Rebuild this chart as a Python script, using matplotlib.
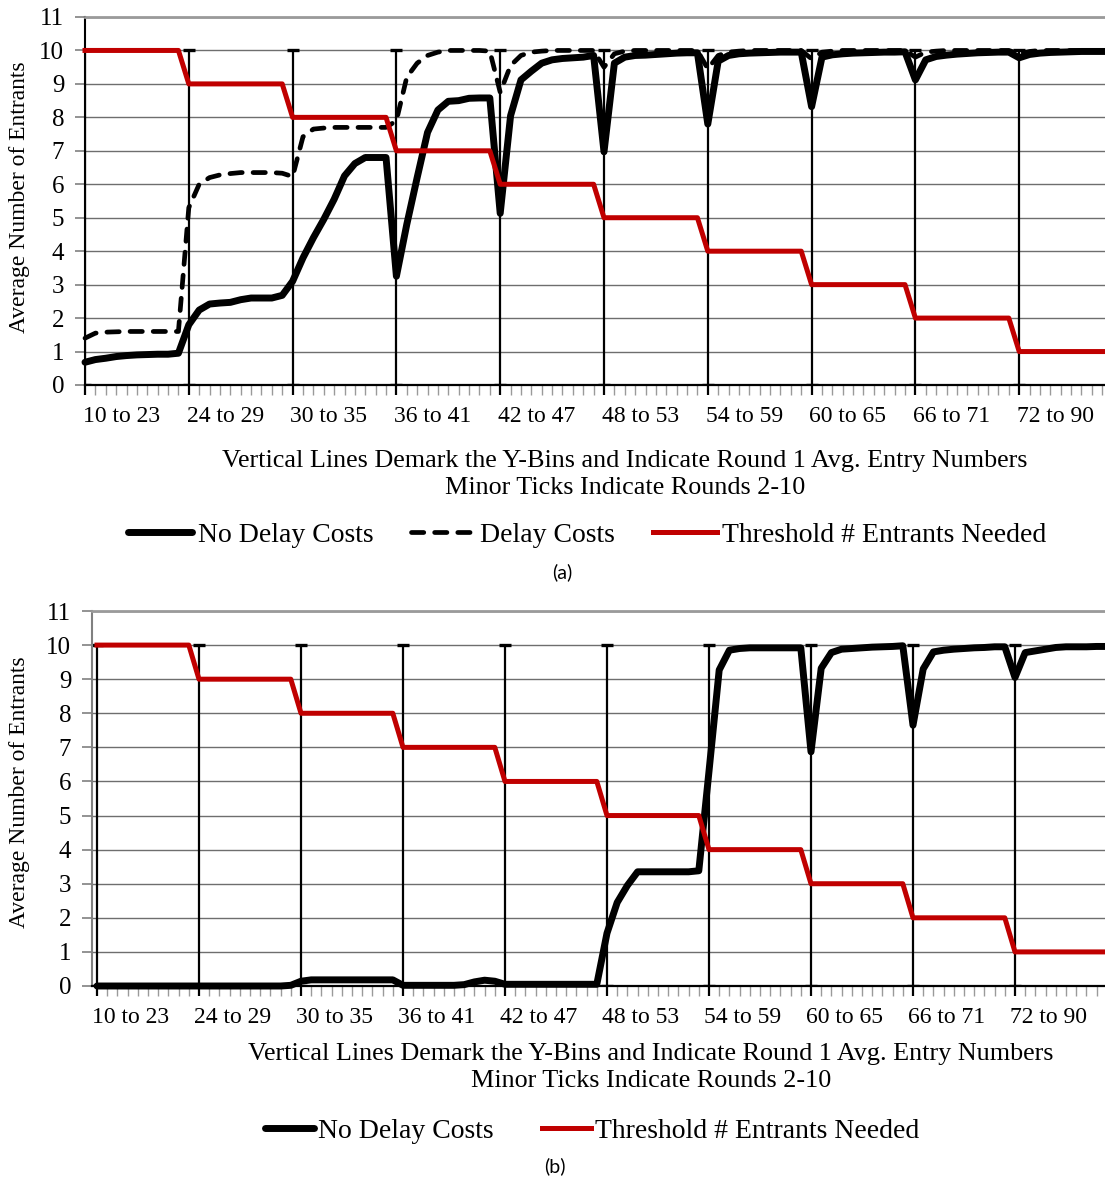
import numpy as np
import matplotlib
matplotlib.use("Agg")
import matplotlib.pyplot as plt
from matplotlib.ticker import MultipleLocator

plt.rcParams['font.family'] = ['Liberation Serif', 'DejaVu Serif']

# ---------------- data ----------------
bins = ["10 to 23", "24 to 29", "30 to 35", "36 to 41", "42 to 47",
        "48 to 53", "54 to 59", "60 to 65", "66 to 71", "72 to 90"]
threshold = [10, 9, 8, 7, 6, 5, 4, 3, 2, 1]   # per bin
rounds_per_bin = 10
bin_marker_top = 10   # height of the vertical bin lines (round 1)

# panel (a): rounds 1-10 of each bin, 100 values
a_no_delay = [
    0.68, 0.76, 0.80, 0.85, 0.88, 0.90, 0.91, 0.92, 0.92, 0.95,
    1.80, 2.24, 2.42, 2.45, 2.47, 2.55, 2.60, 2.60, 2.60, 2.68,
    3.10, 3.80, 4.40, 4.95, 5.55, 6.25, 6.62, 6.80, 6.80, 6.80,
    3.25, 4.80, 6.20, 7.55, 8.22, 8.48, 8.50, 8.57, 8.58, 8.58,
    5.13, 8.05, 9.12, 9.38, 9.62, 9.72, 9.76, 9.78, 9.80, 9.85,
    6.97, 9.62, 9.80, 9.85, 9.86, 9.88, 9.90, 9.92, 9.93, 9.93,
    7.80, 9.68, 9.85, 9.90, 9.92, 9.93, 9.94, 9.95, 9.95, 9.95,
    8.32, 9.80, 9.87, 9.90, 9.92, 9.93, 9.94, 9.95, 9.95, 9.96,
    9.12, 9.72, 9.82, 9.86, 9.89, 9.91, 9.93, 9.94, 9.95, 9.95,
    9.78, 9.88, 9.92, 9.94, 9.95, 9.96, 9.97, 9.97, 9.97, 9.97,
]
a_delay = [
    1.40, 1.55, 1.58, 1.59, 1.60, 1.60, 1.60, 1.60, 1.60, 1.60,
    5.30, 6.00, 6.20, 6.28, 6.32, 6.35, 6.35, 6.35, 6.35, 6.33,
    6.23, 7.42, 7.65, 7.68, 7.70, 7.70, 7.70, 7.70, 7.70, 7.70,
    7.90, 9.20, 9.62, 9.85, 9.95, 10.0, 10.0, 10.0, 10.0, 9.98,
    8.75, 9.55, 9.85, 9.95, 9.98, 10.0, 10.0, 10.0, 10.0, 10.0,
    9.50, 9.90, 9.98, 10.0, 10.0, 10.0, 10.0, 10.0, 10.0, 10.0,
    9.45, 9.85, 9.95, 9.98, 10.0, 10.0, 10.0, 10.0, 10.0, 10.0,
    9.75, 9.95, 9.98, 10.0, 10.0, 10.0, 10.0, 10.0, 10.0, 10.0,
    9.80, 9.95, 9.98, 10.0, 10.0, 10.0, 10.0, 10.0, 10.0, 10.0,
    9.90, 9.97, 10.0, 10.0, 10.0, 10.0, 10.0, 10.0, 10.0, 10.0,
]
# panel (b)
b_no_delay = [
    0.00, 0.00, 0.00, 0.00, 0.00, 0.00, 0.00, 0.00, 0.00, 0.00,
    0.00, 0.00, 0.00, 0.00, 0.00, 0.00, 0.00, 0.00, 0.00, 0.02,
    0.14, 0.18, 0.18, 0.18, 0.18, 0.18, 0.18, 0.18, 0.18, 0.18,
    0.02, 0.02, 0.02, 0.02, 0.02, 0.02, 0.04, 0.12, 0.17, 0.14,
    0.05, 0.05, 0.05, 0.05, 0.05, 0.05, 0.05, 0.05, 0.05, 0.05,
    1.55, 2.45, 2.95, 3.35, 3.35, 3.35, 3.35, 3.35, 3.35, 3.38,
    6.30, 9.27, 9.85, 9.90, 9.92, 9.92, 9.92, 9.92, 9.92, 9.92,
    6.87, 9.32, 9.78, 9.88, 9.90, 9.92, 9.94, 9.95, 9.96, 9.98,
    7.65, 9.30, 9.80, 9.85, 9.88, 9.90, 9.92, 9.93, 9.95, 9.95,
    9.05, 9.78, 9.83, 9.88, 9.93, 9.95, 9.95, 9.95, 9.96, 9.96,
]

x_title = ("Vertical Lines Demark the Y-Bins and Indicate Round 1 Avg. Entry Numbers\n"
           "Minor Ticks Indicate Rounds 2-10")
y_title = "Average Number of Entrants"

# ---------------- styling ----------------
W, H = 1105, 1178
BLACK = "#000000"
RED = "#c00000"
GRID = "#6e6e6e"

fig = plt.figure(figsize=(W / 100, H / 100), dpi=100)


def px_axes(left, top, right, bottom):
    return fig.add_axes([left / W, 1 - bottom / H, (right - left) / W, (bottom - top) / H])


n = len(bins) * rounds_per_bin
xs = np.arange(n)
thr_series = np.repeat(threshold, rounds_per_bin)
round1 = np.arange(0, n, rounds_per_bin)


def setup(ax, xlim, left_spine_color, label_offset):
    ax.set_xlim(*xlim)
    ax.set_ylim(0, 11)
    ax.set_yticks(range(12))
    ax.tick_params(axis='y', length=7, width=1.2, color='#808080',
                   labelsize=18, pad=8)
    ax.yaxis.grid(True, color=GRID, lw=1.0)
    ax.set_axisbelow(True)
    ax.set_xticks(round1)
    ax.set_xticklabels([])
    ax.xaxis.set_minor_locator(MultipleLocator(1))
    ax.tick_params(axis='x', which='major', length=7, width=1.6, color=BLACK)
    ax.tick_params(axis='x', which='minor', length=7, width=1.0, color='#9a9a9a')
    ax.spines['right'].set_visible(False)
    ax.spines['top'].set_color('#9a9a9a')
    ax.spines['top'].set_linewidth(2.0)
    ax.spines['left'].set_color(left_spine_color)
    ax.spines['left'].set_linewidth(1.5)
    ax.spines['bottom'].set_color(BLACK)
    ax.spines['bottom'].set_linewidth(1.6)
    sec = ax.secondary_xaxis('bottom')
    sec.set_xticks(round1 + label_offset, labels=bins)
    sec.tick_params(length=0, pad=15, labelsize=17)
    sec.spines['bottom'].set_visible(False)
    # vertical bin lines at round 1 with top caps
    ax.errorbar(round1, np.zeros(len(round1)),
                yerr=[np.zeros(len(round1)), np.full(len(round1), bin_marker_top)],
                fmt='none', ecolor=BLACK, elinewidth=1.6, capsize=4, capthick=2.4,
                zorder=2)


# ---------------- panel (a) ----------------
axa = px_axes(85, 17, W, 385)
setup(axa, (0, (W - 85) / 10.38), BLACK, 3.5)
l_nd, = axa.plot(xs, a_no_delay, color=BLACK, lw=5.0, zorder=4,
                 solid_joinstyle='round', solid_capstyle='round', clip_on=False)
l_d, = axa.plot(xs, a_delay, color=BLACK, lw=3.4, zorder=3,
                dashes=(2.6, 2.3), dash_capstyle='round', clip_on=False)
l_t, = axa.plot(xs, thr_series, color=RED, lw=3.6, zorder=5,
                solid_joinstyle='round', clip_on=False)
axa.set_ylabel(y_title, fontsize=17)
axa.yaxis.set_label_coords((20 - 85) / (W - 85), 0.51)
axa.yaxis.label.set_va('center')
axa.set_xlabel(x_title, fontsize=18.8, linespacing=1.3)
axa.xaxis.set_label_coords((625 - 85) / (W - 85), (385 - 474.5) / 368)
axa.xaxis.label.set_va('center')

fig.legend([l_nd, l_d, l_t], ["No Delay Costs", "Delay Costs", "Threshold # Entrants Needed"],
           loc='center', bbox_to_anchor=(587.5 / W, 1 - 535 / H), ncol=3, frameon=False,
           fontsize=20, handlelength=2.3, handletextpad=0.2, columnspacing=1.35)
fig.text(562 / W, 1 - 572 / H, "(a)", ha='center', va='center', fontsize=14,
         family=['Lato', 'DejaVu Sans'])

# ---------------- panel (b) ----------------
axb = px_axes(92, 611, W, 986)
setup(axb, (-5 / 10.2, (W - 97) / 10.2), '#808080', 3.3)
m_nd, = axb.plot(xs, b_no_delay, color=BLACK, lw=5.0, zorder=4,
                 solid_joinstyle='round', solid_capstyle='round', clip_on=False)
m_t, = axb.plot(xs, thr_series, color=RED, lw=3.6, zorder=5,
                solid_joinstyle='round', clip_on=False)
axb.set_ylabel(y_title, fontsize=17)
axb.yaxis.set_label_coords((20 - 92) / (W - 92), 0.516)
axb.yaxis.label.set_va('center')
axb.set_xlabel(x_title, fontsize=18.8, linespacing=1.3)
axb.xaxis.set_label_coords((651 - 92) / (W - 92), (986 - 1067.5) / 375)
axb.xaxis.label.set_va('center')

fig.legend([m_nd, m_t], ["No Delay Costs", "Threshold # Entrants Needed"],
           loc='center', bbox_to_anchor=(592 / W, 1 - 1131 / H), ncol=2, frameon=False,
           fontsize=20, handlelength=1.75, handletextpad=0.15, columnspacing=1.75)
fig.text(555 / W, 1 - 1166 / H, "(b)", ha='center', va='center', fontsize=14,
         family=['Lato', 'DejaVu Sans'])

fig.savefig("out.png", dpi=100)
